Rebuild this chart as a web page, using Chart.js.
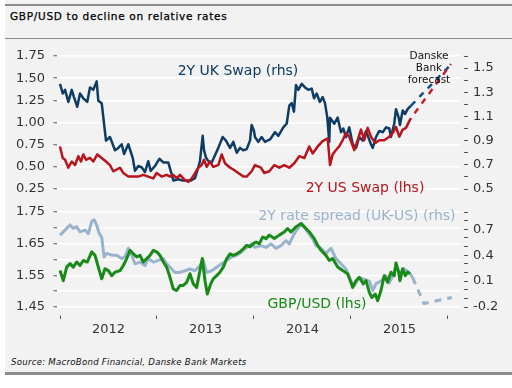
<!DOCTYPE html>
<html><head><meta charset="utf-8">
<script src="https://cdn.jsdelivr.net/npm/chart.js@4.4.1/dist/chart.umd.min.js"></script>
<style>
html,body{margin:0;padding:0;background:#fff;width:512px;height:388px;overflow:hidden;position:relative;font-family:'DejaVu Sans',sans-serif}
#panel{position:absolute;left:5px;top:0;width:507px;height:375px;background:#f2f2f2}
.rule{position:absolute;left:5px;width:507px;background:#8c8c8c}
canvas{position:absolute;left:0;top:0}
.t{position:absolute;white-space:nowrap;transform:translate(-50%,-50%);line-height:1;font-size:14px}
#title{position:absolute;left:10px;top:10px;font-family:'DejaVu Sans',sans-serif;font-size:10.5px;letter-spacing:0.7px;color:#000;white-space:nowrap;-webkit-text-stroke:0.25px #000}
#source{position:absolute;left:11px;top:357px;font-family:'DejaVu Sans',sans-serif;font-style:italic;font-size:8.6px;letter-spacing:0.25px;color:#111;white-space:nowrap}
#fc{position:absolute;left:429px;top:49px;transform:translateX(-50%);text-align:center;font-size:10.5px;line-height:12px;color:#111;white-space:nowrap}
</style></head><body>
<div id="panel"></div>
<div class="rule" style="top:4px;height:2px"></div>
<div class="rule" style="top:38px;height:1px"></div>
<div class="rule" style="top:372px;height:3px"></div>
<div id="title">GBP/USD to decline on relative rates</div>
<div id="source">Source: MacroBond Financial, Danske Bank Markets</div>
<canvas id="top" width="512" height="388"></canvas>
<canvas id="bot" width="512" height="388"></canvas>
<div class="t" style="left:238px;top:70px;color:#0e3c64">2Y UK Swap (rhs)</div>
<div class="t" style="left:365px;top:187px;color:#b8141c">2Y US Swap (lhs)</div>
<div class="t" style="left:357px;top:215px;color:#9ab3cc">2Y rate spread (UK-US) (rhs)</div>
<div class="t" style="left:317px;top:303px;color:#178a17">GBP/USD (lhs)</div>
<div id="fc">Danske<br>Bank<br>forecast</div>
<script>
// ---------- DATA ----------
const ukDates = [2012.000,2012.028,2012.052,2012.086,2012.121,2012.144,2012.178,2012.206,2012.240,2012.281,2012.309,2012.343,2012.378,2012.395,2012.430,2012.454,2012.474,2012.515,2012.567,2012.601,2012.636,2012.660,2012.704,2012.749,2012.773,2012.807,2012.842,2012.876,2012.910,2012.935,2012.979,2013.024,2013.065,2013.116,2013.152,2013.168,2013.220,2013.265,2013.306,2013.347,2013.392,2013.426,2013.443,2013.471,2013.485,2013.505,2013.529,2013.564,2013.598,2013.632,2013.677,2013.711,2013.753,2013.787,2013.822,2013.856,2013.890,2013.925,2013.959,2013.976,2014.000,2014.010,2014.044,2014.079,2014.113,2014.165,2014.216,2014.251,2014.302,2014.337,2014.364,2014.389,2014.412,2014.433,2014.457,2014.492,2014.526,2014.560,2014.595,2014.619,2014.646,2014.680,2014.708,2014.732,2014.756,2014.776,2014.784,2014.828,2014.863,2014.897,2014.921,2014.948,2014.982,2015.018,2015.052,2015.086,2015.121,2015.155,2015.206,2015.224,2015.258,2015.292,2015.327,2015.361,2015.395,2015.412,2015.446,2015.464,2015.492,2015.505,2015.533,2015.557,2015.584,2015.619];
const ukSwap = [1.37,1.29,1.32,1.22,1.32,1.26,1.18,1.29,1.25,1.22,1.34,1.32,1.39,1.23,1.21,1.04,0.90,0.93,0.82,0.84,0.87,0.79,0.87,0.76,0.65,0.69,0.68,0.64,0.73,0.65,0.69,0.75,0.72,0.72,0.62,0.57,0.58,0.57,0.57,0.57,0.59,0.68,0.73,0.94,0.82,0.76,0.73,0.72,0.78,0.84,0.93,0.90,0.84,0.89,0.80,0.84,0.82,0.83,0.90,1.03,0.98,0.93,0.89,0.93,0.89,0.91,0.97,0.94,1.01,1.04,1.19,1.21,1.14,1.36,1.32,1.37,1.34,1.32,1.33,1.25,1.29,1.22,1.26,1.21,1.09,0.89,1.09,1.04,1.09,0.97,1.00,0.93,1.01,0.87,0.84,0.93,0.90,0.98,0.87,0.84,0.93,0.98,0.97,1.01,1.00,0.93,1.04,1.16,1.09,1.03,1.15,1.12,1.16,1.19];
const ukFcDates = [2015.619, 2016.031];
const ukFc = [1.19, 1.53];

const usDates = [2012.000,2012.028,2012.052,2012.086,2012.121,2012.155,2012.189,2012.216,2012.240,2012.268,2012.309,2012.343,2012.385,2012.430,2012.474,2012.515,2012.549,2012.585,2012.619,2012.653,2012.704,2012.756,2012.807,2012.859,2012.910,2012.962,2012.997,2013.048,2013.100,2013.134,2013.168,2013.203,2013.237,2013.289,2013.323,2013.358,2013.392,2013.426,2013.461,2013.485,2013.512,2013.546,2013.580,2013.632,2013.667,2013.701,2013.753,2013.787,2013.838,2013.890,2013.925,2013.976,2014.010,2014.072,2014.106,2014.158,2014.210,2014.261,2014.312,2014.364,2014.415,2014.467,2014.519,2014.570,2014.605,2014.657,2014.708,2014.760,2014.784,2014.811,2014.845,2014.879,2014.914,2014.948,2014.982,2015.034,2015.069,2015.103,2015.137,2015.172,2015.206,2015.251,2015.292,2015.343,2015.395,2015.430,2015.464,2015.498,2015.533,2015.567,2015.608,2015.619];
const usSwap = [0.73,0.60,0.58,0.49,0.56,0.52,0.62,0.56,0.64,0.58,0.60,0.56,0.64,0.60,0.56,0.52,0.45,0.47,0.49,0.43,0.39,0.39,0.39,0.41,0.39,0.37,0.43,0.39,0.41,0.39,0.41,0.37,0.41,0.35,0.33,0.37,0.43,0.49,0.52,0.58,0.50,0.56,0.50,0.52,0.64,0.54,0.49,0.47,0.43,0.39,0.39,0.45,0.52,0.49,0.43,0.45,0.52,0.49,0.52,0.49,0.54,0.62,0.60,0.73,0.65,0.73,0.79,0.82,0.52,0.64,0.69,0.73,0.80,0.88,0.84,0.69,0.80,0.92,0.80,0.94,0.84,0.77,0.80,0.80,0.84,0.88,0.95,0.84,0.92,0.94,1.03,1.05];
const usFcDates = [2015.619, 2016.031];
const usFc = [1.05, 1.66];

const fxDates = [2012.000,2012.034,2012.069,2012.103,2012.137,2012.172,2012.206,2012.240,2012.281,2012.327,2012.361,2012.395,2012.430,2012.464,2012.498,2012.533,2012.567,2012.619,2012.653,2012.688,2012.722,2012.756,2012.791,2012.825,2012.859,2012.894,2012.928,2012.962,2012.997,2013.031,2013.065,2013.100,2013.134,2013.168,2013.203,2013.237,2013.271,2013.306,2013.340,2013.374,2013.409,2013.443,2013.467,2013.495,2013.519,2013.554,2013.580,2013.615,2013.649,2013.684,2013.719,2013.753,2013.787,2013.822,2013.856,2013.890,2013.925,2013.959,2013.993,2014.021,2014.055,2014.090,2014.124,2014.158,2014.210,2014.261,2014.312,2014.347,2014.381,2014.433,2014.485,2014.519,2014.570,2014.622,2014.657,2014.691,2014.742,2014.776,2014.811,2014.863,2014.914,2014.966,2015.018,2015.052,2015.086,2015.127,2015.155,2015.189,2015.216,2015.251,2015.275,2015.309,2015.343,2015.378,2015.412,2015.446,2015.464,2015.492,2015.505,2015.533,2015.560,2015.584,2015.608];
const gbpusd = [1.565,1.533,1.576,1.587,1.576,1.592,1.581,1.597,1.592,1.624,1.613,1.576,1.539,1.571,1.565,1.549,1.560,1.565,1.581,1.603,1.629,1.618,1.608,1.613,1.592,1.603,1.613,1.629,1.624,1.613,1.592,1.576,1.544,1.507,1.502,1.518,1.518,1.528,1.555,1.523,1.512,1.565,1.603,1.533,1.491,1.523,1.539,1.549,1.560,1.576,1.603,1.618,1.613,1.618,1.624,1.634,1.645,1.640,1.650,1.655,1.650,1.671,1.666,1.677,1.666,1.677,1.687,1.698,1.687,1.703,1.714,1.703,1.687,1.666,1.645,1.629,1.613,1.597,1.603,1.576,1.565,1.555,1.512,1.533,1.544,1.523,1.533,1.496,1.480,1.491,1.470,1.502,1.549,1.528,1.560,1.549,1.589,1.560,1.533,1.571,1.549,1.560,1.555];

const spDates = [2012.000,2012.034,2012.069,2012.103,2012.137,2012.172,2012.206,2012.258,2012.292,2012.327,2012.351,2012.378,2012.405,2012.430,2012.454,2012.481,2012.533,2012.585,2012.636,2012.670,2012.704,2012.739,2012.773,2012.825,2012.876,2012.910,2012.962,2013.013,2013.065,2013.100,2013.134,2013.186,2013.237,2013.289,2013.340,2013.392,2013.443,2013.477,2013.512,2013.564,2013.615,2013.667,2013.719,2013.770,2013.822,2013.873,2013.925,2013.976,2014.010,2014.072,2014.124,2014.175,2014.227,2014.278,2014.330,2014.364,2014.415,2014.467,2014.502,2014.553,2014.605,2014.639,2014.691,2014.742,2014.794,2014.845,2014.897,2014.948,2015.000,2015.034,2015.086,2015.137,2015.189,2015.224,2015.258,2015.309,2015.361,2015.395,2015.430,2015.464,2015.498,2015.550,2015.601,2015.636];
const spread = [0.63,0.67,0.71,0.75,0.71,0.73,0.67,0.69,0.65,0.79,0.81,0.75,0.65,0.61,0.38,0.42,0.40,0.40,0.36,0.38,0.48,0.40,0.30,0.32,0.28,0.36,0.32,0.34,0.36,0.30,0.26,0.20,0.20,0.22,0.24,0.22,0.28,0.34,0.20,0.22,0.26,0.30,0.34,0.38,0.40,0.44,0.49,0.53,0.49,0.51,0.49,0.53,0.48,0.51,0.57,0.53,0.65,0.73,0.75,0.67,0.59,0.51,0.48,0.42,0.48,0.36,0.30,0.24,0.10,0.05,0.14,0.12,0.10,-0.01,0.07,0.10,0.16,0.08,0.16,0.26,0.20,0.24,0.20,0.14];
const spFcDates = [2015.636, 2015.753, 2016.040];
const spFc = [0.14, -0.16, -0.09];

// tick label sets
const yearTicks = [2012, 2012.5, 2013, 2013.5, 2014, 2014.5, 2015, 2015.5, 2016];
const topLeftTicks = [0.25, 0.50, 0.75, 1.00, 1.25, 1.50, 1.75];
const topRightTicks = [0.5,0.6,0.7,0.8,0.9,1.0,1.1,1.2,1.3,1.4,1.5,1.6];
const topRightLabels = ['0.5','0.7','0.9','1.1','1.3','1.5'];
const botLeftTicks = [1.45,1.50,1.55,1.60,1.65,1.70,1.75];
const botLeftLabels = ['1.45','1.55','1.65','1.75'];
const botRightTicks = [-0.2,-0.1,0.0,0.1,0.2,0.3,0.4,0.5,0.6,0.7,0.8,0.9];
const botRightLabels = ['-0.2','0.1','0.4','0.7'];

// ---------- CHART ----------
const XMIN = 2011.969, XMAX = 2016.124;
const pts = (xs, ys) => xs.map((x, i) => ({x, y: ys[i]}));
const FONT = {family: "'DejaVu Sans', sans-serif", size: 13};
const TICKC = '#333';
const setTicks = arr => s => { s.ticks = arr.map(v => ({value: v})); };
const lbl = (labels, digits) => v => { const s = v.toFixed(digits); return labels.includes(s) ? s : ''; };

function line(data, color, width, axis, extra) {
  return Object.assign({data, borderColor: color, borderWidth: width, pointRadius: 0, tension: 0,
    yAxisID: axis, fill: false, borderCapStyle: 'butt', borderJoinStyle: 'round'}, extra || {});
}
function leftAxis(min, max, ticks, cb) {
  return {position: 'left', min, max, afterBuildTicks: setTicks(ticks), afterFit: s => { s.width = 57; },
    ticks: {autoSkip: false, color: TICKC, font: FONT, padding: 7, callback: cb},
    grid: {color: '#ffffff', lineWidth: 1.5, tickColor: '#555', tickWidth: 1, tickLength: 5, tickBorderDash: [0, 1.5, 3.5, 20]},
    border: {display: false}};
}
function rightAxis(min, max, ticks, cb) {
  return {position: 'right', min, max, afterBuildTicks: setTicks(ticks), afterFit: s => { s.width = 52; },
    ticks: {autoSkip: false, color: TICKC, font: FONT, padding: 5, callback: cb},
    grid: {drawOnChartArea: false, tickColor: '#555', tickWidth: 1, tickLength: 8, tickBorderDash: [0, 4, 4, 20]},
    border: {display: false}};
}
const common = {responsive: false, animation: false, devicePixelRatio: 1,
  plugins: {legend: {display: false}, tooltip: {enabled: false}}, events: []};

new Chart(document.getElementById('top'), {
  type: 'line',
  data: {datasets: [
    line(pts(usDates, usSwap), '#b8141c', 2.5, 'yL'),
    line(pts(usFcDates, usFc), '#c8202a', 2.5, 'yL', {borderDash: [6, 6], borderDashOffset: 6}),
    line(pts(ukDates, ukSwap), '#0e3c64', 2.5, 'yR'),
    line(pts(ukFcDates, ukFc), '#14507f', 2.5, 'yR', {borderDash: [6, 6]})
  ]},
  options: Object.assign({}, common, {
    layout: {padding: {top: 56, bottom: 199, left: 0, right: 0}},
    scales: {
      x: {type: 'linear', min: XMIN, max: XMAX, display: false},
      yL: leftAxis(0.25, 1.75, topLeftTicks, v => v.toFixed(2)),
      yR: rightAxis(0.5, 1.6, topRightTicks, lbl(topRightLabels, 1))
    }
  })
});

new Chart(document.getElementById('bot'), {
  type: 'line',
  data: {datasets: [
    line(pts(fxDates, gbpusd), '#178a17', 3, 'yL'),
    line(pts(spDates, spread), '#9ab3cc', 3, 'yR'),
    line(pts(spFcDates, spFc), '#9ab3cc', 3, 'yR', {borderDash: [7, 6]})
  ]},
  options: Object.assign({}, common, {
    layout: {padding: {top: 212, bottom: 51, left: 0, right: 0}},
    scales: {
      x: {type: 'linear', position: 'bottom', min: XMIN, max: XMAX,
        afterBuildTicks: setTicks(yearTicks), afterFit: s => { s.height = 30; },
        ticks: {autoSkip: false, maxRotation: 0, color: TICKC, font: FONT, padding: 3,
          callback: v => Number.isInteger(v) ? '' : String(Math.floor(v))},
        grid: {drawOnChartArea: false, tickLength: 12, tickWidth: 1,
          tickColor: c => (c.tick && Number.isInteger(c.tick.value)) ? '#555' : 'rgba(0,0,0,0)',
          tickBorderDash: [0, 8.5, 3.5, 30]},
        border: {display: false}},
      yL: leftAxis(1.45, 1.75, botLeftTicks, lbl(botLeftLabels, 2)),
      yR: rightAxis(-0.2, 0.9, botRightTicks, lbl(botRightLabels, 1))
    }
  })
});
</script>
</body></html>
